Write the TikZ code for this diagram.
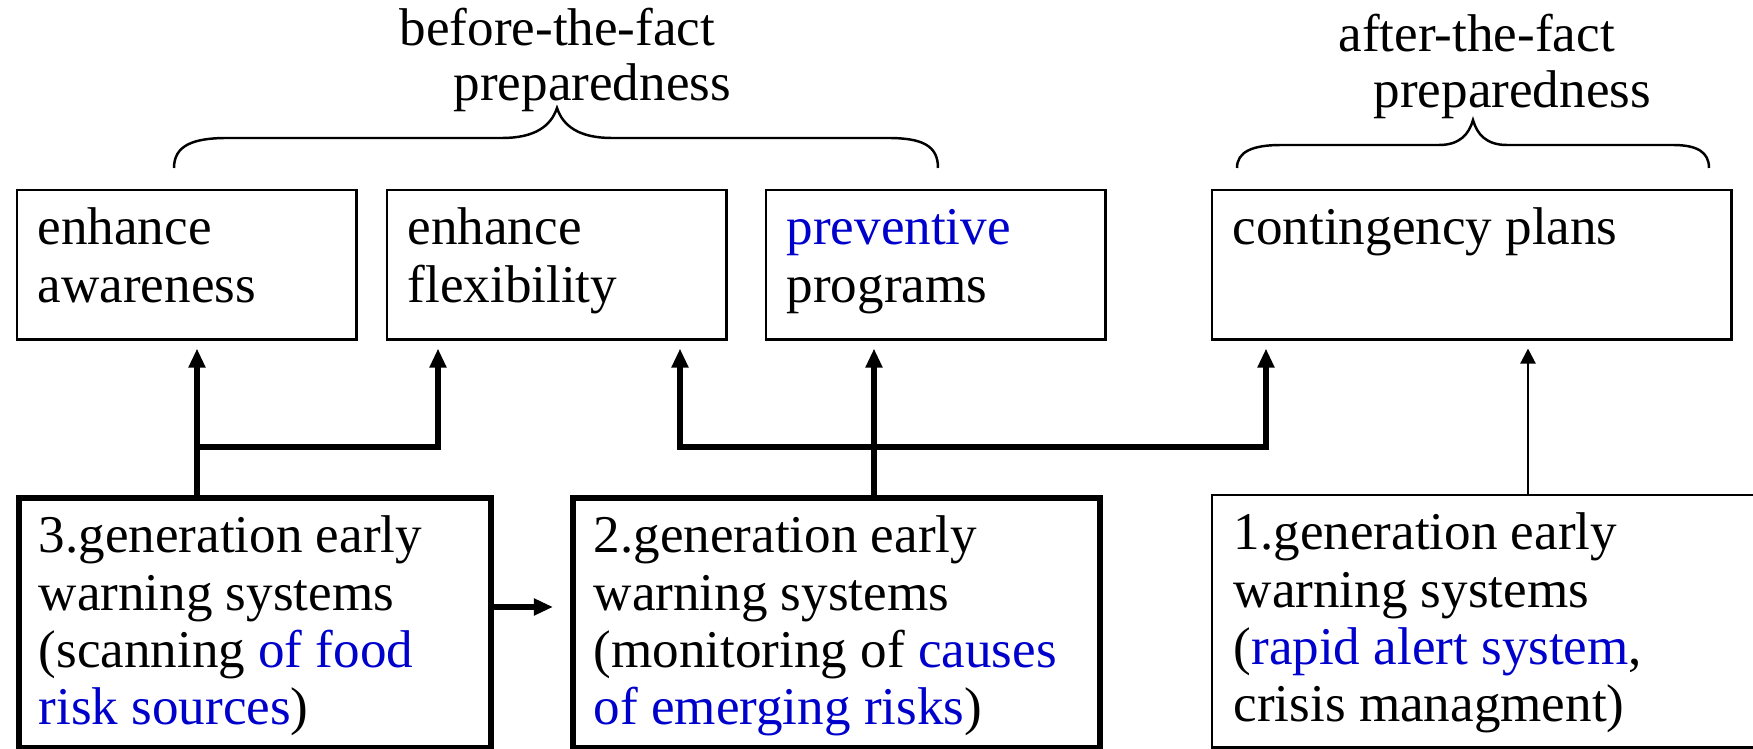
\documentclass[tikz,border=0pt]{standalone}
\usepackage{fontspec}
\setmainfont{Liberation Serif}
\usetikzlibrary{arrows.meta,calc}
\definecolor{linkblue}{RGB}{0,0,204}
\newcommand\blu[1]{\textcolor{linkblue}{#1}}
\newcommand\boxlines[1]{\begin{tabular}[t]{@{}l@{}}#1\end{tabular}}

\begin{document}
\begin{tikzpicture}[x=0.01cm,y=-0.01cm,
  every node/.style={font=\fontsize{15.1}{16.3}\selectfont},
  thinbox/.style={draw, line width=0.7pt, anchor=north west, inner sep=0pt,
    minimum height=1.49cm},
  thickbox/.style={draw, line width=1.6pt, anchor=north west, inner sep=0pt,
    minimum height=2.5cm},
  txt/.style={anchor=base west, inner sep=0pt},
  brace/.style={line width=0.7pt},
  heavy/.style={line width=1.65pt, -{Triangle[length=0.19cm,width=0.16cm]},
    shorten >=0.08cm},
  light/.style={line width=0.65pt, -{Triangle[length=0.15cm,width=0.15cm]},
    shorten >=0.08cm},
]
\useasboundingbox (0,0) rectangle (1753,749);
\clip (0,0) rectangle (1753,749);

% measures of preparedness
\node[thinbox, minimum width=3.39cm] (b1) at (16,189) {};
\node[thinbox, minimum width=3.39cm] (b2) at (386,189) {};
\node[thinbox, minimum width=3.39cm] (b3) at (765,189) {};
\node[thinbox, minimum width=5.19cm] (b4) at (1211,189) {};

\node[txt] (t1) at ($(b1.north west)+(21,56)$) {\boxlines{enhance\\awareness}};
\node[txt] (t2) at ($(b2.north west)+(21,56)$) {\boxlines{enhance\\flexibility}};
\node[txt] (t3) at ($(b3.north west)+(21,56)$) {\boxlines{\blu{preventive}\\programs}};
\node[txt] (t4) at ($(b4.north west)+(21,56)$) {contingency plans};

% early warning system generations
\node[thickbox, minimum width=4.72cm] (g3) at (16,495) {};
\node[thickbox, minimum width=5.27cm] (g2) at (570,495) {};
\node[thinbox, minimum width=6.0cm, minimum height=2.52cm] (g1) at (1211,494) {};

\node[txt] (s3) at ($(g3.north west)+(22,58)$)
  {\boxlines{3.generation early\\warning systems\\(scanning \blu{of food}\\\blu{risk sources})}};
\node[txt] (s2) at ($(g2.north west)+(23,58)$)
  {\boxlines{2.generation early\\warning systems\\(monitoring of \blu{causes}\\\blu{of emerging risks})}};
\node[txt] (s1) at ($(g1.north west)+(22,56)$)
  {\boxlines{1.generation early\\warning systems\\(\blu{rapid alert system},\\crisis managment)}};

% group headings with braces
\node[txt, font=\fontsize{15.1}{15.4}\selectfont] (h1) at (399,46)
  {\boxlines{before-the-fact\\\hspace*{0.54cm}preparedness}};
\node[txt, font=\fontsize{15.1}{15.9}\selectfont] (h2) at (1338,52)
  {\boxlines{after-the-fact\\\hspace*{0.35cm}preparedness}};

\draw[brace] (174,168) .. controls (174,146) and (192,138) .. (227,138) -- (502,138)
  .. controls (535,138) and (551,126) .. (557,108)
  .. controls (563,126) and (579,138) .. (612,138) -- (888,138)
  .. controls (923,138) and (938,146) .. (938,168);
\draw[brace] (1237,168) .. controls (1237,152) and (1252,145) .. (1281,145) -- (1439,145)
  .. controls (1460,145) and (1469,134) .. (1473,120)
  .. controls (1477,134) and (1486,145) .. (1507,145) -- (1673,145)
  .. controls (1697,145) and (1709,152) .. (1709,168);

% connectors
\coordinate (j1) at (197,447);
\coordinate (j2) at (438,447);
\coordinate (j3) at (680,447);
\coordinate (j4) at (1266,447);
\coordinate (j5) at (874,447);
\coordinate (j6) at (1528,447);
\coordinate (j7) at (500,607);

\draw[heavy] (j1 |- g3.north) -- (j1 |- b1.south);
\draw[heavy] (j1) -- (j2) -- (j2 |- b2.south);
\draw[heavy] (j5 |- g2.north) -- (j5 |- b3.south);
\draw[heavy, {Triangle[length=0.19cm,width=0.16cm]}-{Triangle[length=0.19cm,width=0.16cm]},
  shorten <=0.08cm] (j3 |- b2.south) -- (j3) -- (j4) -- (j4 |- b4.south);
\draw[light] (j6 |- g1.north) -- (j6 |- b4.south);
\draw[heavy, shorten >=0.17cm] (g3.east |- j7) -- (g2.west |- j7);
\end{tikzpicture}
\end{document}
